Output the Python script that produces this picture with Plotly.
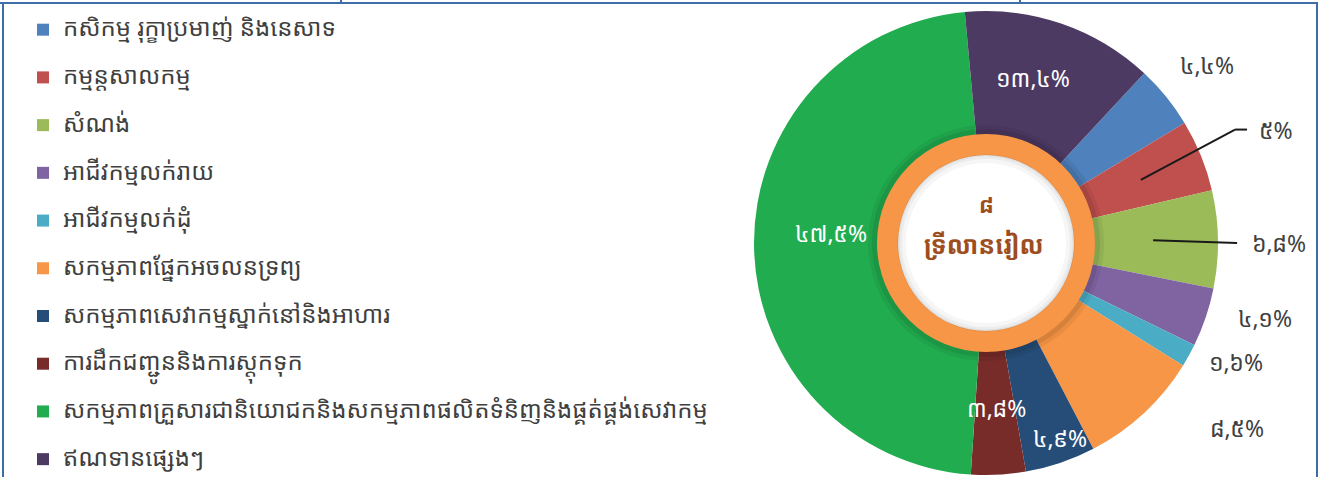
import math
import plotly.graph_objects as go

# ---------------- data ----------------
categories = [
    "កសិកម្ម រុក្ខាប្រមាញ់ និងនេសាទ",
    "កម្មន្តសាលកម្ម",
    "សំណង់",
    "អាជីវកម្មលក់រាយ",
    "អាជីវកម្មលក់ដុំ",
    "សកម្មភាពផ្នែកអចលនទ្រព្យ",
    "សកម្មភាពសេវាកម្មស្នាក់នៅនិងអាហារ",
    "ការដឹកជញ្ជូននិងការស្តុកទុក",
    "សកម្មភាពគ្រួសារជានិយោជកនិងសកម្មភាពផលិតទំនិញនិងផ្គត់ផ្គង់សេវាកម្ម",
    "ឥណទានផ្សេងៗ",
]
shares = [4.4, 5.0, 6.8, 4.1, 1.6, 8.5, 4.9, 3.8, 47.5, 13.4]
center_value = "៨"
center_unit = "ទ្រីលានរៀល"

# ---------------- style ----------------
colors = ["#4F81BD", "#C0504D", "#9BBB59", "#8064A2", "#4BACC6",
          "#F79646", "#264D78", "#772C2A", "#21AD4F", "#4D3A63"]
label_colors = ["#404040"] * 6 + ["white"] * 4
# per-label placement: radius factor and angle shift (deg) from slice middle
label_r = [1.24, 1.36, 1.28, 1.26, 1.21, 1.36, 0.91, 0.72, 0.68, 0.75]
label_dang = [0.2, 0.8, 0.9, -3.6, -3.6, -10.7, -2.1, -0.4, 4.4, -3.1]
leader = [False, True, True, False, False, False, False, False, False, False]

W, H = 1326, 477
CX, CY, R = 986, 243, 232     # pie centre / radius (px)
RING_OUT, RING_IN = 109, 88
ROT = 43
FONT = "Noto Sans Khmer, Khmer OS, Noto Sans, DejaVu Sans, sans-serif"
LEG_SIZE = 17.2      # controls legend row spacing
LEG_TEXT = 24        # visible legend text size
LABEL_SIZE = 23

KH_DIGITS = str.maketrans("0123456789", "០១២៣៤៥៦៧៨៩")


def kh_pct(v):
    s = ("%g" % v).replace(".", ",")
    return s.translate(KH_DIGITS) + "%"


def px(x):
    return x / W


def py(y):
    return 1 - y / H


def ring_domain(r, pad=10):
    return dict(x=[px(CX - r - pad), px(CX + r + pad)], y=[py(CY + r), py(CY - r)])


legend_labels = []
for i, c in enumerate(categories):
    t = '<span style="font-size:%dpx">%s</span>' % (LEG_TEXT, c)
    if i < len(categories) - 1:
        t += "<br>\u00a0"
    legend_labels.append(t)

fig = go.Figure()

fig.add_trace(go.Pie(
    labels=legend_labels,
    values=shares,
    marker=dict(colors=colors, line=dict(width=0)),
    sort=False, direction="clockwise", rotation=ROT,
    hole=RING_OUT / R * 0.98,
    textinfo="none", hoverinfo="none",
    domain=ring_domain(R, 20),
    showlegend=True,
))

# soft shadow around the ring
for r_out, alpha in [(118, 0.06), (114, 0.08)]:
    fig.add_trace(go.Pie(
        values=[1], labels=["s"], marker=dict(colors=["rgba(0,0,0,%g)" % alpha], line=dict(width=0)),
        hole=(RING_OUT - 2) / r_out, textinfo="none", hoverinfo="none", sort=False,
        domain=ring_domain(r_out), showlegend=False))

# orange ring in the centre
fig.add_trace(go.Pie(
    values=[1], labels=["ring"],
    marker=dict(colors=["#F79646"], line=dict(width=0)),
    hole=RING_IN / RING_OUT, textinfo="none", hoverinfo="none", sort=False,
    domain=ring_domain(RING_OUT),
    showlegend=False,
))

# inner shading of the white disc
for r_in, alpha in [(80, 0.035), (84, 0.04), (86.5, 0.05)]:
    fig.add_trace(go.Pie(
        values=[1], labels=["i"], marker=dict(colors=["rgba(0,0,0,%g)" % alpha], line=dict(width=0)),
        hole=r_in / (RING_IN + 0.5), textinfo="none", hoverinfo="none", sort=False,
        domain=ring_domain(RING_IN + 0.5), showlegend=False))

annotations = []
shapes = []
total = sum(shares)
cum = 0.0
for i, v in enumerate(shares):
    mid = ROT + (cum + v / 2) / total * 360.0
    cum += v
    a = math.radians(mid + label_dang[i])
    lx = CX + label_r[i] * 229 * math.sin(a)
    ly = CY - label_r[i] * 229 * math.cos(a)
    annotations.append(dict(
        x=px(lx), y=py(ly), xref="paper", yref="paper", showarrow=False,
        text=kh_pct(v), font=dict(size=LABEL_SIZE, color=label_colors[i], family=FONT),
        xanchor="center", yanchor="middle"))
    if leader[i]:
        am = math.radians(mid)
        sx = CX + 0.73 * 229 * math.sin(am)
        sy = CY - 0.73 * 229 * math.cos(am)
        if i == 1:
            pts = [(sx, sy), (lx - 41, ly), (lx - 29, ly)]
        else:
            pts = [(sx, sy), (lx - 42, ly)]
        for (x0, y0), (x1, y1) in zip(pts[:-1], pts[1:]):
            shapes.append(dict(type="line", xref="paper", yref="paper",
                               x0=px(x0), y0=py(y0), x1=px(x1), y1=py(y1),
                               line=dict(color="#1a1a1a", width=2)))

# centre text
annotations.append(dict(x=px(CX), y=py(204), xref="paper", yref="paper", showarrow=False,
                        xanchor="center", yanchor="middle",
                        text="<b>%s</b>" % center_value,
                        font=dict(size=22, color="#9E4E1E", family=FONT)))
annotations.append(dict(x=px(CX - 2), y=py(244), xref="paper", yref="paper", showarrow=False,
                        xanchor="center", yanchor="middle",
                        text="<b>%s</b>" % center_unit,
                        font=dict(size=25, color="#9E4E1E", family=FONT)))

# frame
frame = "#3F6DA8"
shapes += [
    dict(type="line", xref="paper", yref="paper", x0=px(0), x1=px(1318), y0=py(3), y1=py(3),
         line=dict(color=frame, width=2)),
    dict(type="line", xref="paper", yref="paper", x0=px(3), x1=px(3), y0=py(3), y1=py(477),
         line=dict(color=frame, width=2)),
    dict(type="line", xref="paper", yref="paper", x0=px(1317), x1=px(1317), y0=py(3), y1=py(477),
         line=dict(color=frame, width=2)),
    dict(type="line", xref="paper", yref="paper", x0=px(341), x1=px(341), y0=py(0), y1=py(3),
         line=dict(color=frame, width=2)),
    dict(type="line", xref="paper", yref="paper", x0=px(1020), x1=px(1020), y0=py(0), y1=py(3),
         line=dict(color=frame, width=2)),
]

fig.update_layout(
    width=W, height=H,
    margin=dict(l=0, r=0, t=0, b=0),
    paper_bgcolor="white", plot_bgcolor="white",
    font=dict(family=FONT, color="#404040"),
    legend=dict(x=px(23), y=py(12), xanchor="left", yanchor="top",
                font=dict(size=LEG_SIZE, color="#404040", family=FONT),
                valign="top", bgcolor="rgba(0,0,0,0)"),
    annotations=annotations,
    shapes=shapes,
)

fig.write_html("out.html", config={"displayModeBar": False},
               post_script="document.body.style.margin='0';document.body.style.overflow='hidden';")
